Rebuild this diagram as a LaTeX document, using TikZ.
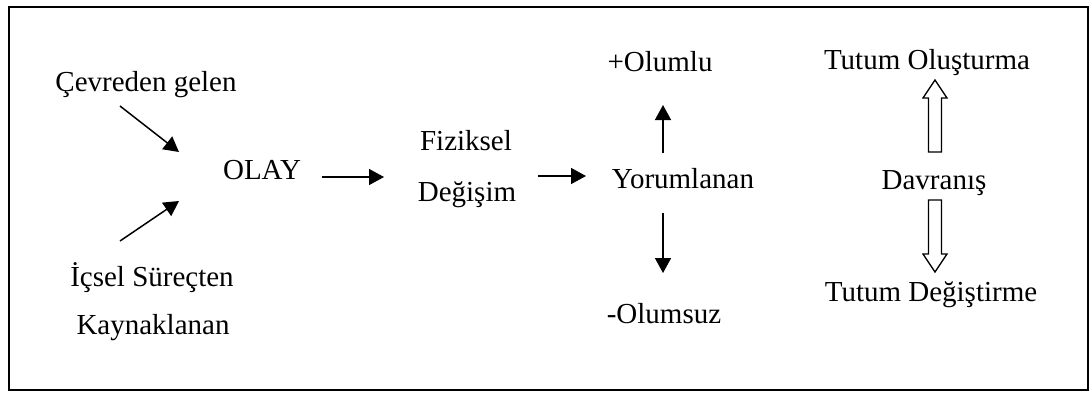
\documentclass[tikz,border=0pt]{standalone}
\usepackage{fontspec}
\setmainfont{Liberation Serif}
\usetikzlibrary{arrows.meta}
\begin{document}
\begin{tikzpicture}[x=1pt,y=-1pt,
  lbl/.style={inner sep=0pt,anchor=base,font=\fontsize{29}{34}\selectfont},
  arr/.style={line width=1.5pt,-{Triangle[length=15pt,width=16pt]}},
  hollow/.style={draw=black,line width=1.3pt,fill=white,line join=miter}]
\useasboundingbox (0,0) rectangle (1089,392);
\draw[line width=2pt] (8.5,7) rectangle (1087.5,389.5);
% texts
\node[lbl] (cevre) at (146,91) {Çevreden gelen};
\node[lbl] (olay) at (262,179) {OLAY};
\node[lbl] (icsel) at (152,286) {İçsel Süreçten};
\node[lbl] (kayn) at (153,334) {Kaynaklanan};
\node[lbl] (fiz) at (466,150) {Fiziksel};
\node[lbl] (deg) at (467,201) {Değişim};
\node[lbl] (olumlu) at (660,71) {+Olumlu};
\node[lbl] (yorum) at (683,188) {Yorumlanan};
\node[lbl] (olumsuz) at (664,323) {-Olumsuz};
\node[lbl] (tol) at (927,69) {Tutum Oluşturma};
\node[lbl] (davr) at (934,189) {Davranış};
\node[lbl] (tdeg) at (931,301) {Tutum Değiştirme};
% arrow end points
\coordinate (a1s) at (120,106); \coordinate (a1e) at (179,152);
\coordinate (a2s) at (120,241); \coordinate (a2e) at (179,201);
\coordinate (a3s) at (322,177); \coordinate (a3e) at (384,177);
\coordinate (a4s) at (538,176); \coordinate (a4e) at (586,176);
\coordinate (a5s) at (663,153); \coordinate (a5e) at (663,105);
\coordinate (a6s) at (663,213); \coordinate (a6e) at (663,273);
\draw[arr] (a1s) -- (a1e);
\draw[arr] (a2s) -- (a2e);
\draw[arr] (a3s) -- (a3e);
\draw[arr] (a4s) -- (a4e);
\draw[arr] (a5s) -- (a5e);
\draw[arr] (a6s) -- (a6e);
% hollow arrows
\draw[hollow] (928.5,152) -- (928.5,98) -- (923,98) -- (935,80) -- (947,98) -- (941.5,98) -- (941.5,152) -- cycle;
\draw[hollow] (928.5,200) -- (928.5,254) -- (923,254) -- (935,272) -- (947,254) -- (941.5,254) -- (941.5,200) -- cycle;
\end{tikzpicture}
\end{document}
